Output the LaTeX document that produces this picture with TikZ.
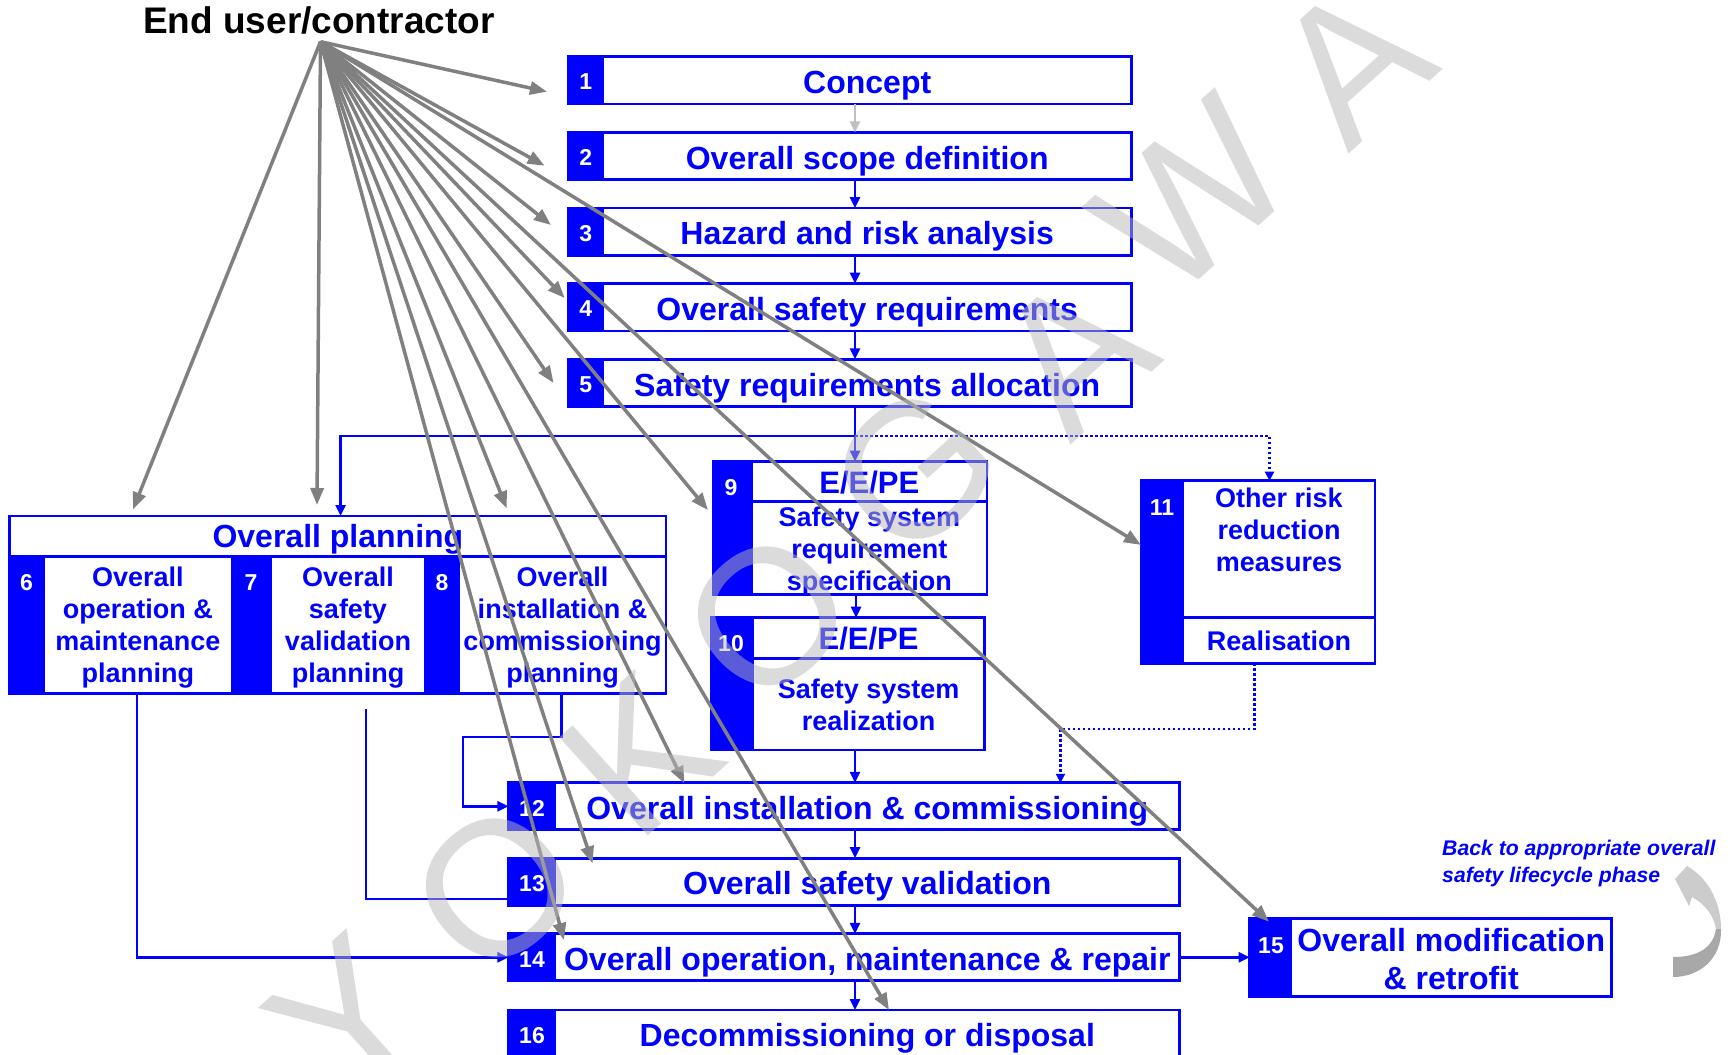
\documentclass[tikz,border=0pt]{standalone}
\usepackage{fontspec}
\setmainfont{Liberation Sans}
\usetikzlibrary{arrows.meta}
\definecolor{arrlight}{RGB}{204,204,204}
\definecolor{arrdark}{RGB}{168,168,168}
\definecolor{wmgray}{RGB}{184,184,184}
\definecolor{silver}{RGB}{192,192,192}
\begin{document}
\begin{tikzpicture}[x=1pt,y=-1pt,
  strip/.style={fill=blue, draw=blue, line width=2.8pt, inner sep=0pt, outer sep=0pt},
  wbox/.style={draw=blue, fill=white, line width=2.8pt, inner sep=0pt, outer sep=0pt, text=blue, font=\fontsize{32}{38}\selectfont\bfseries, text height=26pt, text depth=0pt},
  num/.style={text=white, font=\fontsize{23}{27}\selectfont\bfseries, inner sep=0pt, text height=16.5pt, text depth=0pt},
  ml/.style={text=blue, align=center, inner sep=0pt, font=\fontsize{27}{32}\selectfont\bfseries},
  barrow/.style={draw=blue, line width=2.5pt, -{Triangle[length=11pt,width=10pt]}},
  bline/.style={draw=blue, line width=2.5pt},
  dline/.style={draw=blue, line width=2.5pt, dash pattern=on 2.5pt off 2.5pt},
  darrow/.style={dline, -{Triangle[length=9pt,width=9pt]}},
  garrow/.style={draw=gray, line width=3.5pt, -{Triangle[length=17pt,width=13pt]}},
  wm/.style={text=wmgray, text opacity=0.5, font=\fontsize{192}{192}\selectfont, inner sep=0pt}
]
\useasboundingbox (0,0) rectangle (1730,1055);

% ---------- boxes 1-5 ----------
\node[strip, minimum width=33.9pt, minimum height=47.3pt] (n1) at (585.75,80.4) {};
\node[wbox, minimum width=529pt, minimum height=47.3pt] (b1) at (867.2,80.4) {Concept};
\node[strip, minimum width=33.9pt, minimum height=47.3pt] (n2) at (585.75,156.05) {};
\node[wbox, minimum width=529pt, minimum height=47.3pt] (b2) at (867.2,156.05) {Overall scope definition};
\node[strip, minimum width=33.9pt, minimum height=47.3pt] (n3) at (585.75,231.7) {};
\node[wbox, minimum width=529pt, minimum height=47.3pt] (b3) at (867.2,231.7) {Hazard and risk analysis};
\node[strip, minimum width=33.9pt, minimum height=47.3pt] (n4) at (585.75,307.35) {};
\node[wbox, minimum width=529pt, minimum height=47.3pt] (b4) at (867.2,307.35) {Overall safety requirements};
\node[strip, minimum width=33.9pt, minimum height=47.3pt] (n5) at (585.75,383) {};
\node[wbox, minimum width=529pt, minimum height=47.3pt] (b5) at (867.2,383) {Safety requirements allocation};
\node[num] (l1) at (585.75,81.5) {1};
\node[num] (l2) at (585.75,157.2) {2};
\node[num] (l3) at (585.75,232.8) {3};
\node[num] (l4) at (585.75,308.5) {4};
\node[num] (l5) at (585.75,384.2) {5};

% ---------- overall planning ----------
\node[wbox, minimum width=656.2pt, minimum height=177.3pt] (pl) at (337.9,604.65) {};
\node[wbox, minimum width=656.2pt, minimum height=40.7pt, text height=23pt, font=\fontsize{32}{38}\selectfont\bfseries] (plh) at (337.9,536.35) {Overall planning};
\node[strip, minimum width=33.95pt, minimum height=136.6pt] (n6) at (26.8,625) {};
\node[wbox, minimum width=188.25pt, minimum height=136.6pt] (b6) at (137.9,625) {};
\node[strip, minimum width=39pt, minimum height=136.6pt] (n7) at (251.5,625) {};
\node[wbox, minimum width=154pt, minimum height=136.6pt] (b7) at (348,625) {};
\node[strip, minimum width=34pt, minimum height=136.6pt] (n8) at (442,625) {};
\node[wbox, minimum width=207pt, minimum height=136.6pt] (b8) at (562.5,625) {};
\node[ml] (t6) at (137.9,627.5) {Overall\\operation \&\\maintenance\\planning};
\node[ml] (t7) at (348,627.5) {Overall\\safety\\validation\\planning};
\node[ml] (t8) at (562.5,628) {Overall\\installation \&\\commissioning\\planning};
\node[num] (l6) at (26.5,582) {6};
\node[num] (l7) at (251,582) {7};
\node[num] (l8) at (442,582) {8};

% ---------- box 9 ----------
\node[strip, minimum width=38.6pt, minimum height=132.6pt] (n9) at (732.3,528) {};
\node[wbox, minimum width=235.4pt, minimum height=40pt, text height=23pt, font=\fontsize{31}{36}\selectfont\bfseries] (b9) at (869.3,481.7) {E/E/PE};
\node[wbox, minimum width=235.4pt, minimum height=92.6pt] (b9b) at (869.3,548) {};
\node[ml] (t9) at (869.3,551.5) {Safety system\\requirement\\specification};
\node[num] (l9) at (731,487.5) {9};

% ---------- box 10 ----------
\node[strip, minimum width=41.5pt, minimum height=132.3pt] (n10) at (731.75,683.85) {};
\node[wbox, minimum width=232.1pt, minimum height=40.6pt, text height=23pt, font=\fontsize{31}{36}\selectfont\bfseries] (b10) at (868.55,638) {E/E/PE};
\node[wbox, minimum width=232.1pt, minimum height=91.7pt] (b10b) at (868.55,704.15) {};
\node[ml] (t10) at (868.55,704.9) {Safety system\\realization};
\node[num] (l10) at (731,643.5) {10};

% ---------- box 11 ----------
\node[strip, minimum width=41.2pt, minimum height=182.6pt] (n11) at (1162.4,572) {};
\node[wbox, minimum width=192pt, minimum height=136.6pt] (b11) at (1279,549) {};
\node[wbox, minimum width=192pt, minimum height=46pt, text height=19.5pt, font=\fontsize{27}{32}\selectfont\bfseries] (b11b) at (1279,640.3) {Realisation};
\node[ml] (t11) at (1279,529.9) {Other risk\\reduction\\measures};
\node[num] (l11) at (1162,507) {11};

% ---------- boxes 12-16 ----------
\node[strip, minimum width=46.6pt, minimum height=47pt] (n12) at (531.7,806.3) {};
\node[wbox, minimum width=624.6pt, minimum height=47pt] (b12) at (867.3,806.3) {Overall installation \& commissioning};
\node[strip, minimum width=46.6pt, minimum height=47pt] (n13) at (531.7,881.7) {};
\node[wbox, minimum width=624.6pt, minimum height=47pt] (b13) at (867.3,881.7) {Overall safety validation};
\node[strip, minimum width=46.6pt, minimum height=47pt] (n14) at (531.7,957.3) {};
\node[wbox, minimum width=624.6pt, minimum height=47pt] (b14) at (867.3,957.3) {Overall operation, maintenance \& repair};
\node[strip, minimum width=46.6pt, minimum height=47pt] (n16) at (531.7,1033.5) {};
\node[wbox, minimum width=624.6pt, minimum height=47pt] (b16) at (867.3,1033.5) {Decommissioning or disposal};
\node[num] (l12) at (532,808) {12};
\node[num] (l13) at (532,883) {13};
\node[num] (l14) at (532,959.5) {14};
\node[num] (l16) at (532,1035) {16};

% ---------- box 15 ----------
\node[strip, minimum width=41.3pt, minimum height=78.4pt] (n15) at (1270.35,957.5) {};
\node[wbox, minimum width=320.5pt, minimum height=78.4pt] (b15) at (1451.25,957.5) {};
\node[ml, font=\fontsize{32}{38}\selectfont\bfseries] (t15) at (1451.25,959) {Overall modification\\\& retrofit};
\node[num] (l15) at (1271,945.5) {15};

% ---------- texts ----------
\node[anchor=base, inner sep=0pt, font=\fontsize{37}{40}\selectfont\bfseries] (eu) at (319,33.3) {End user/contractor};
\node[anchor=west, inner sep=0pt, align=left, text=blue, font=\fontsize{21.2}{27}\selectfont\bfseries\itshape] (back) at (1442,863.6) {Back to appropriate overall\\safety lifecycle phase};

% ---------- blue connectors ----------
\coordinate (cx) at (855,0);
\coordinate (J) at (855,436);
\coordinate (JL) at (340.6,436);
\coordinate (JR) at (1269.5,436);
\draw[barrow, draw=silver] (b1.south -| cx) -- (b2.north -| cx);
\draw[barrow] (b2.south -| cx) -- (b3.north -| cx);
\draw[barrow] (b3.south -| cx) -- (b4.north -| cx);
\draw[barrow] (b4.south -| cx) -- (b5.north -| cx);
\draw[barrow] (b5.south -| cx) -- (b9.north -| cx);
\draw[barrow] (J) -- (JL) -- (JL |- plh.north);
\draw[darrow] (J) -- (JR) -- (JR |- b11.north);
\draw[barrow] (n9.south -| 856,0) -- (n10.north -| 856,0);
\draw[barrow] (b10b.south -| cx) -- (b12.north -| cx);
\draw[barrow] (b12.south -| cx) -- (b13.north -| cx);
\draw[barrow] (b13.south -| cx) -- (b14.north -| cx);
\draw[barrow] (b14.south -| cx) -- (b16.north -| cx);
\draw[barrow] (b14.east) -- (n15.west |- b14.east);
\coordinate (d1) at (1254.7,729);
\coordinate (d2) at (1060.5,729);
\draw[darrow] (b11b.south -| d1) -- (d1) -- (d2) -- (d2 |- b12.north);
\coordinate (p6) at (137,957.3);
\draw[barrow] (b6.south -| p6) -- (p6) -- (n14.west);
\coordinate (p7a) at (366,709);
\coordinate (p7b) at (366,899);
\draw[bline] (p7a) -- (p7b) -- (n13.west |- p7b);
\coordinate (p8a) at (561.6,737);
\coordinate (p8b) at (463,737);
\coordinate (p8c) at (463,806.3);
\draw[barrow] (b8.south -| p8a) -- (p8a) -- (p8b) -- (p8c) -- (n12.west);

% ---------- gray arrows ----------
\coordinate (src) at (320.5,41.7);
\coordinate (g1) at (547,91.7);
\coordinate (g2) at (544.6,165.7);
\coordinate (g3) at (551,225);
\coordinate (g4) at (564.7,298);
\coordinate (g5) at (553.6,383);
\coordinate (g6) at (133,509.3);
\coordinate (g7) at (317,505);
\coordinate (g8) at (506.7,508.3);
\coordinate (g9) at (707.9,510);
\coordinate (g11) at (1141,545);
\coordinate (g12) at (684.4,783.3);
\coordinate (g13) at (592.6,863.3);
\coordinate (g14) at (563.9,940);
\coordinate (g15) at (1269,921.7);
\coordinate (g16) at (889,1010);
\foreach \g in {g1,g2,g3,g4,g5,g6,g7,g8,g9,g11,g12,g13,g14,g15,g16}
  \draw[garrow] (src) -- (\g);

% ---------- curved back arrow ----------
\coordinate (ctip) at (1675,879);
\coordinate (cw1) at (1687,866);
\coordinate (cmo) at (1721,929);
\coordinate (cmi) at (1716,929);
\coordinate (cn) at (1692,897);
\coordinate (cw2) at (1689,906);
\coordinate (cbo) at (1673,977);
\coordinate (cbi) at (1673,957);
\fill[arrlight] (ctip) -- (cw1) .. controls (1708,878) and (1721,902) .. (cmo) -- (cmi) .. controls (1714,916) and (1705,904) .. (cn) -- (cw2) -- cycle;
\fill[arrdark] (cmo) .. controls (1722,958) and (1700,977) .. (cbo) -- (cbi) .. controls (1696,957) and (1713,949) .. (cmi) -- cycle;

% ---------- watermark ----------
\node[wm, rotate=42] (w1) at (347,1018) {Y};
\node[wm, rotate=42] (w2) at (496,888) {O};
\node[wm, rotate=42] (w3) at (640,755) {K};
\node[wm, rotate=42] (w4) at (768,616) {O};
\node[wm, rotate=42] (w5) at (915,470) {G};
\node[wm, rotate=42] (w6) at (1074,354) {A};
\node[wm, rotate=42] (w7) at (1193,197) {W};
\node[wm, rotate=42] (w8) at (1352,63) {A};
\end{tikzpicture}
\end{document}
